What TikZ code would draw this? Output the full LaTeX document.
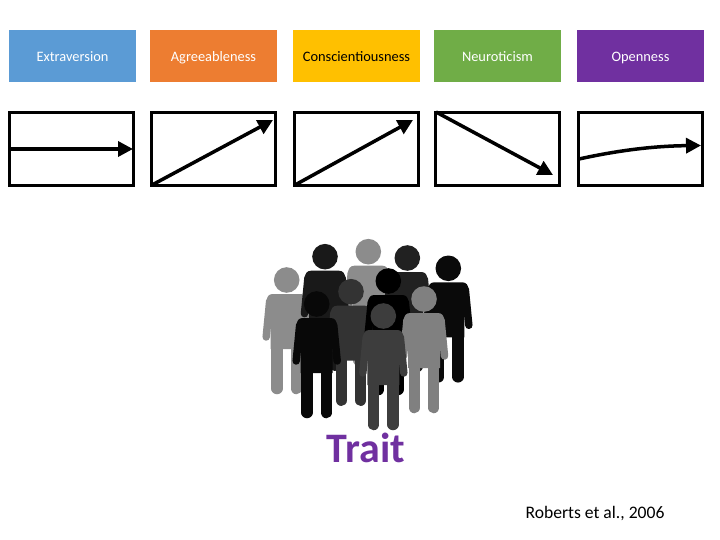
\documentclass[tikz,border=0pt]{standalone}
\usepackage{fontspec}
\setmainfont{Carlito}
\usetikzlibrary{arrows.meta}
\tikzset{
  trait/.style={minimum width=127pt, minimum height=52pt, inner sep=0pt, text=white, text height=15pt, text depth=3pt, font=\fontsize{14.4}{16}\selectfont},
  plotbox/.style={draw=black, line width=3pt, minimum width=124pt, minimum height=73pt, inner sep=0pt},
  trend/.style={line width=3.5pt, -{Triangle[length=15pt,width=15pt]}}
}
\definecolor{extrablue}{HTML}{5B9BD5}
\definecolor{agreeorange}{HTML}{ED7D31}
\definecolor{conscgold}{HTML}{FFC000}
\definecolor{neurogreen}{HTML}{70AD47}
\definecolor{openpurple}{HTML}{7030A0}
% one figure of the crowd: x, y of the head, grey level
\newcommand{\person}[3]{
  \begin{scope}[shift={(#1,#2)}, fill=#3, draw=#3]
    \fill (0,0) circle (12.8pt);
    \fill (-16,69) -- (-16,40) [rounded corners=7pt] -- (-21,14) -- (21,14) [sharp corners] -- (16,40) -- (16,69) -- cycle;
    \draw[line width=7.5pt, line cap=round, line join=round] (-17,21) -- (-20.5,57);
    \draw[line width=7.5pt, line cap=round, line join=round] (17,21) -- (20.5,57);
    \draw[line width=11.5pt, line cap=round] (-9.7,60) -- (-9.7,108.5);
    \draw[line width=11.5pt, line cap=round] (9.7,60) -- (9.7,108.5);
  \end{scope}
}
\begin{document}
\begin{tikzpicture}[x=1pt, y=-1pt]
  \useasboundingbox (0,0) rectangle (720,540);

  % the five header boxes
  \node[trait, fill=extrablue] (extra) at (72.5,56) {Extraversion};
  \node[trait, fill=agreeorange] (agree) at (213.5,56) {Agreeableness};
  \node[trait, fill=conscgold, text=black] (consc) at (356.5,56) {Conscientiousness};
  \node[trait, fill=neurogreen] (neuro) at (497.5,56) {Neuroticism};
  \node[trait, fill=openpurple] (open) at (640.5,56) {Openness};

  % the boxes for the trends
  \node[plotbox] (extraplot) at (71.5,149) {};
  \node[plotbox] (agreeplot) at (213.5,149) {};
  \node[plotbox] (conscplot) at (356.5,149) {};
  \node[plotbox] (neuroplot) at (497.5,149) {};
  \node[plotbox] (openplot) at (640.5,149) {};

  % start and end of each trend
  \coordinate (extrastart) at (10,149);
  \coordinate (extraend) at (133,149);
  \coordinate (agreestart) at (152,185);
  \coordinate (agreeend) at (273,120);
  \coordinate (conscstart) at (295,185);
  \coordinate (conscend) at (413,120);
  \coordinate (neurostart) at (436,112);
  \coordinate (neuroend) at (553,175);
  \coordinate (openstart) at (579,159);
  \coordinate (openend) at (701,145.5);

  \draw[trend] (extrastart) -- (extraend);
  \draw[trend] (agreestart) -- (agreeend);
  \draw[trend] (conscstart) -- (conscend);
  \draw[trend] (neurostart) -- (neuroend);
  \draw[trend] (openstart) .. controls (620,150) and (655,146) .. (openend);

  % the crowd, back to front
  \person{368.3}{251.7}{black!45}
  \person{286.7}{280}{black!45}
  \person{325}{256.7}{black!90}
  \person{407.3}{258}{black!87}
  \person{448.3}{268.3}{black!96}
  \person{351}{291.7}{black!80}
  \person{388.3}{281}{black}
  \person{316.7}{304}{black!97}
  \person{424}{299}{black!50}
  \person{383.3}{316}{black!76}

  \node[text=openpurple, font=\fontsize{42}{44}\bfseries\selectfont] (traitlabel) at (366,448) {Trait};
  \node[font=\fontsize{17.6}{20}\selectfont] (source) at (595,514) {Roberts et al., 2006};
\end{tikzpicture}
\end{document}
